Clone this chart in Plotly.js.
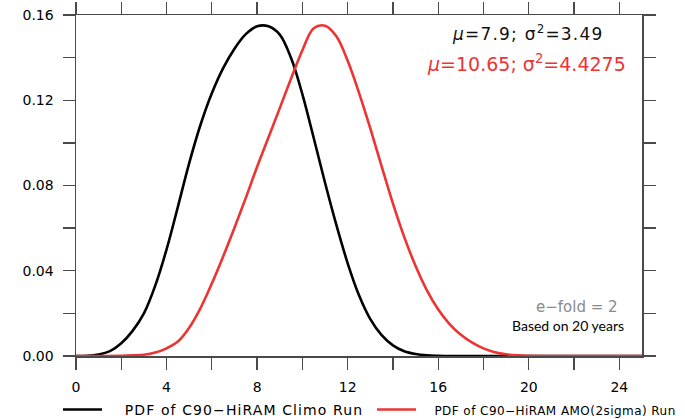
<!DOCTYPE html>
<html>
<head>
<meta charset="utf-8">
<script src="https://cdn.plot.ly/plotly-3.0.1.min.js"></script>
<style>html,body{margin:0;padding:0;background:#fff;}#chart{width:685px;height:419px;}</style>
</head>
<body>
<div id="chart"></div>
<script>
// PDF values (x step 0.5)
var xClimo = [0, 0.5, 1.0, 1.5, 2.0, 2.5, 3.0, 3.5, 4.0, 4.5, 5.0, 5.5, 6.0, 6.5, 7.0, 7.5, 8.0, 8.5, 9.0, 9.5, 10.0, 10.5, 11.0, 11.5, 12.0, 12.5, 13.0, 13.5, 14.0, 14.5, 15.0, 15.5, 16.0, 16.5, 17.0, 18.0, 20.0, 22.0, 25.0];
var pdfClimo = [0, 0.0001, 0.0007, 0.0023, 0.0060, 0.0118, 0.0200, 0.0330, 0.0500, 0.0700, 0.0905, 0.1085, 0.1233, 0.1351, 0.1442, 0.1510, 0.1547, 0.1547, 0.1508, 0.1398, 0.1228, 0.1023, 0.0813, 0.0615, 0.0435, 0.0285, 0.0173, 0.0098, 0.0050, 0.0022, 0.0009, 0.0003, 0.0001, 0, 0, 0, 0, 0, 0];

var xAmo = [0, 1.0, 2.0, 2.5, 3.0, 3.5, 4.0, 4.5, 5.0, 5.5, 6.0, 6.5, 7.0, 7.5, 8.0, 8.5, 9.0, 9.5, 10.0, 10.5, 11.0, 11.5, 12.0, 12.5, 13.0, 13.5, 14.0, 14.5, 15.0, 15.5, 16.0, 16.5, 17.0, 17.5, 18.0, 18.5, 19.0, 19.5, 20.0, 21.0, 22.0, 25.0];
var pdfAmo = [0, 0, 0.0001, 0.0003, 0.0006, 0.0016, 0.0036, 0.0068, 0.0133, 0.0225, 0.0340, 0.0467, 0.0602, 0.0742, 0.0888, 0.1025, 0.1163, 0.1302, 0.1435, 0.1538, 0.1550, 0.1500, 0.1385, 0.1235, 0.1068, 0.0890, 0.0715, 0.0558, 0.0422, 0.0308, 0.0218, 0.0150, 0.0100, 0.0063, 0.0036, 0.0018, 0.0008, 0.0003, 0.0001, 0, 0, 0];

var nameClimo = 'PDF of C90\u2212HiRAM Climo Run';
var nameAmo = 'PDF of C90\u2212HiRAM AMO(2sigma) Run';
var statsClimo = '<i>\u03bc</i>=7.9; \u03c3<sup>2</sup>=3.49';
var statsAmo = '<i>\u03bc</i>=10.65; \u03c3<sup>2</sup>=4.4275';
var noteEfold = 'e\u2212fold = 2';
var noteYears = 'Based on 20 years';

var axisColor = '#4a4a4a';
var sp = '\u00a0';

var traces = [
  {x: xClimo, y: pdfClimo, type: 'scatter', mode: 'lines', legend: 'legend',
   name: sp + sp + sp + sp + '<span style="letter-spacing:1.1px">' + nameClimo + '</span>',
   line: {color: '#000000', width: 2.6, shape: 'spline', smoothing: 1}},
  {x: xAmo, y: pdfAmo, type: 'scatter', mode: 'lines', legend: 'legend2',
   name: sp + sp + sp + '<span style="font-size:12px;letter-spacing:0.45px">' + nameAmo + '</span>',
   line: {color: '#ee3333', width: 2.6, shape: 'spline', smoothing: 1}}
];

var legendFont = {family: 'DejaVu Sans', size: 14, color: '#000'};

var layout = {
  width: 685, height: 419,
  margin: {l: 76, r: 43, t: 15, b: 63, autoexpand: false},
  paper_bgcolor: '#ffffff', plot_bgcolor: '#ffffff',
  font: {family: 'DejaVu Sans', size: 14, color: '#000'},
  showlegend: true,
  legend: {orientation: 'h', x: -0.0318, xanchor: 'left', y: -0.158, yanchor: 'middle',
           font: legendFont, bgcolor: 'rgba(0,0,0,0)', itemwidth: 39},
  legend2: {orientation: 'h', x: 0.5230, xanchor: 'left', y: -0.158, yanchor: 'middle',
            font: legendFont, bgcolor: 'rgba(0,0,0,0)', itemwidth: 39},
  xaxis: {range: [0, 25], dtick: 4, tick0: 0, ticks: 'outside', ticklen: 12, tickwidth: 1.3,
          tickcolor: axisColor, showline: true, linecolor: axisColor, linewidth: 1.5,
          mirror: 'ticks', showgrid: false, zeroline: false, ticklabelstandoff: 6,
          minor: {dtick: 2, tick0: 0, ticks: 'outside', ticklen: 12, tickwidth: 1.3, tickcolor: axisColor, showgrid: false},
          tickfont: {family: 'DejaVu Sans', size: 14, color: '#000'}},
  yaxis: {range: [0, 0.16], dtick: 0.04, tick0: 0, tickformat: '.2f', ticks: 'outside', ticklen: 12,
          tickwidth: 1.3, tickcolor: axisColor, showline: true, linecolor: axisColor, linewidth: 1.5,
          mirror: 'ticks', showgrid: false, zeroline: false, ticklabelstandoff: 6,
          minor: {dtick: 0.02, tick0: 0, ticks: 'outside', ticklen: 12, tickwidth: 1.3, tickcolor: axisColor, showgrid: false},
          tickfont: {family: 'DejaVu Sans', size: 14, color: '#000'}},
  annotations: [
    {xref: 'paper', yref: 'paper', x: 0.936, y: 0.947, xanchor: 'right', yanchor: 'middle',
     text: '<span style="letter-spacing:1.2px">' + statsClimo + '</span>', showarrow: false,
     font: {family: 'DejaVu Sans', size: 17, color: '#111'}},
    {xref: 'paper', yref: 'paper', x: 0.976, y: 0.859, xanchor: 'right', yanchor: 'middle',
     text: statsAmo, showarrow: false, font: {family: 'DejaVu Sans', size: 19, color: '#ee3333'}},
    {xref: 'paper', yref: 'paper', x: 0.962, y: 0.143, xanchor: 'right', yanchor: 'middle',
     text: noteEfold, showarrow: false, font: {family: 'DejaVu Sans', size: 15, color: '#8a8a8a'}},
    {xref: 'paper', yref: 'paper', x: 0.971, y: 0.090, xanchor: 'right', yanchor: 'middle',
     text: noteYears, showarrow: false, font: {family: 'Lato', size: 14, color: '#000'}}
  ]
};

Plotly.newPlot('chart', traces, layout, {staticPlot: true, displayModeBar: false});
</script>
</body>
</html>
